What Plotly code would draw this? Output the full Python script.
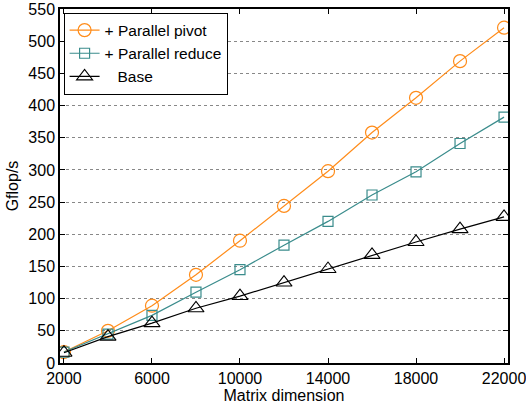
import plotly.graph_objects as go

x_dim = [2000, 4000, 6000, 8000, 10000, 12000, 14000, 16000, 18000, 20000, 22000]
pivot = [17, 50, 89, 137, 190, 244, 298, 358, 412, 469, 521]
reduce_ = [17, 45, 74, 110, 145, 183, 220, 261, 297, 341, 382]
base = [16, 41, 62, 85, 104, 125, 146, 168, 188, 208, 227]

x_ticks = [2000, 6000, 10000, 14000, 18000, 22000]
y_ticks = list(range(0, 551, 50))

FONT = "Liberation Sans, Arial, Helvetica, sans-serif"
ORANGE = "#FF8C1A"
TEAL = "#3A8C8C"

fig = go.Figure()
fig.add_trace(go.Scatter(x=x_dim, y=pivot, name="+ Parallel pivot", mode="lines+markers",
                         line=dict(color=ORANGE, width=1.2),
                         marker=dict(symbol="circle-open", size=13, color=ORANGE, line=dict(width=1.2))))
fig.add_trace(go.Scatter(x=x_dim, y=reduce_, name="+ Parallel reduce", mode="lines+markers",
                         line=dict(color=TEAL, width=1.2),
                         marker=dict(symbol="square-open", size=10, color=TEAL, line=dict(width=1.2))))
fig.add_trace(go.Scatter(x=x_dim, y=base, name="\u00a0\u00a0\u00a0Base", mode="lines+markers",
                         line=dict(color="black", width=1.2),
                         marker=dict(symbol="triangle-up-open", size=14, color="black", line=dict(width=1.1))))

fig.update_layout(
    width=526, height=404,
    margin=dict(l=60, r=18, t=9, b=41),
    paper_bgcolor="white", plot_bgcolor="white",
    font=dict(family=FONT, size=16, color="black"),
    showlegend=True,
    legend=dict(x=0.008, y=0.99, xanchor="left", yanchor="top",
                bordercolor="black", borderwidth=1, bgcolor="white",
                font=dict(size=15.5), tracegroupgap=0, itemwidth=30),
)
fig.update_xaxes(range=[1820, 22180], tickvals=x_ticks, ticktext=[str(v) for v in x_ticks],
                 showline=True, linecolor="black", linewidth=1.5, mirror="ticks",
                 ticks="inside", ticklen=5, tickcolor="black", showgrid=False, zeroline=False,
                 ticklabeloverflow="allow", automargin=False,
                 title=dict(text="Matrix dimension", standoff=3, font=dict(size=16)),
                 tickfont=dict(size=16))
fig.update_yaxes(range=[0, 550], tickvals=y_ticks,
                 showline=True, linecolor="black", linewidth=1.5, mirror="ticks",
                 ticks="inside", ticklen=5, tickcolor="black", automargin=False,
                 showgrid=True, gridcolor="#888888", griddash="dot", gridwidth=1, zeroline=False,
                 title=dict(text="Gflop/s", standoff=6, font=dict(size=16)),
                 tickfont=dict(size=16))

fig.write_html("out.html")
